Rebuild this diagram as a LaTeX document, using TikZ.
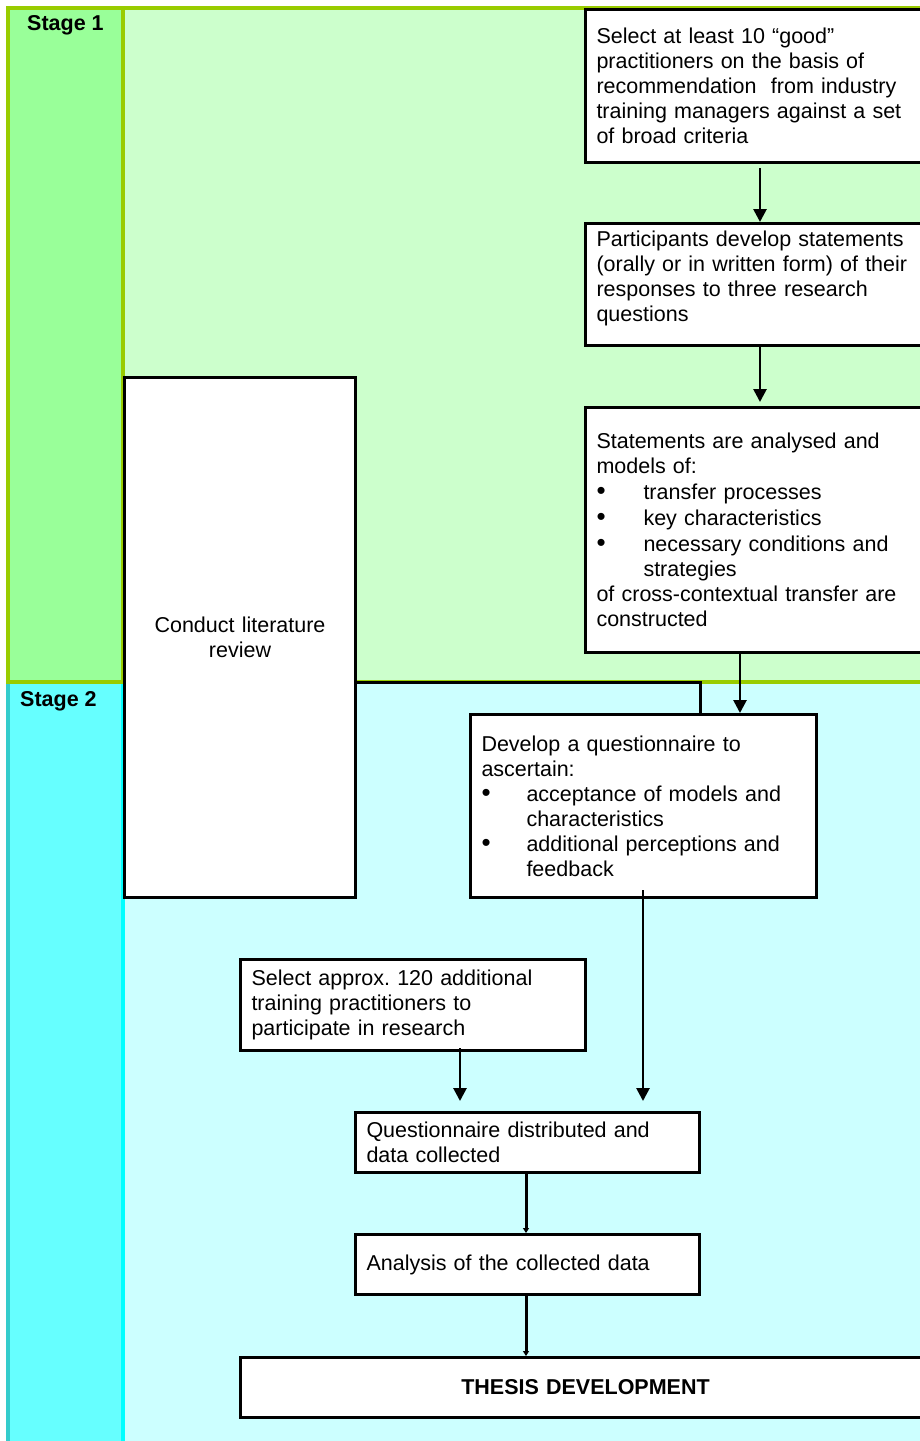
\documentclass[tikz,border=0pt]{standalone}
\usepackage{fontspec}
\setmainfont{Liberation Sans}
\usetikzlibrary{arrows.meta,calc}
\frenchspacing

\definecolor{frameGreen}{HTML}{99CC00}
\definecolor{stageOneSide}{HTML}{99FF99}
\definecolor{stageOneMain}{HTML}{CCFFCC}
\definecolor{stageTwoSide}{HTML}{66FFFF}
\definecolor{stageTwoMain}{HTML}{CCFFFF}
\definecolor{stageTwoEdge}{HTML}{33CCCC}
\definecolor{stageTwoRule}{HTML}{00FFFF}

\newcommand{\bodyfont}{\fontsize{21.5pt}{25pt}\selectfont}
\newcommand{\bulletmark}{{\fontsize{26pt}{25pt}\selectfont •}}
\newcommand{\itemC}{\makebox[47pt][l]{\bulletmark}}
\newcommand{\indC}{\hspace*{47pt}}
\newcommand{\itemD}{\makebox[45pt][l]{\bulletmark}}
\newcommand{\indD}{\hspace*{45pt}}

\tikzset{
  box/.style={draw, line width=3pt, fill=white, inner xsep=11pt, inner ysep=0pt,
              align=left, anchor=north west, font=\bodyfont},
  stagelabel/.style={anchor=west, inner sep=0pt, font=\bodyfont\bfseries},
  flow/.style={line width=2.7pt, -{Triangle[width=13pt,length=13pt]}},
  shortflow/.style={line width=3pt, -{Triangle[width=6pt,length=5pt]}},
  link/.style={line width=3pt},
}

\begin{document}
\begin{tikzpicture}[x=1pt,y=-1pt]
\useasboundingbox (0,0) rectangle (919,1441);

% stage panels
\fill[stageOneSide] (8,8) rectangle (123,682);
\fill[stageOneMain] (123,8) rectangle (935,682);
\fill[stageTwoSide] (8,682) rectangle (123,1450);
\fill[stageTwoMain] (123,682) rectangle (935,1450);
\draw[frameGreen, line width=4pt] (8,682) -- (8,8) -- (935,8);
\draw[frameGreen, line width=4pt] (123,8) -- (123,682);
\draw[frameGreen, line width=4pt] (6,682) -- (935,682);
\draw[stageTwoEdge, line width=4pt] (8,684) -- (8,1450);
\draw[stageTwoRule, line width=4pt] (123,684) -- (123,1450);

\node[stagelabel] (s1) at (27,25) {Stage 1};
\node[stagelabel] (s2) at (20,701) {Stage 2};

% process boxes
\node[box, minimum width=400pt, text width=378pt, minimum height=153pt] (sel10) at (584,8)
  {Select at least 10 “good”\\
   practitioners on the basis of\\
   recommendation\ \ from industry\\
   training managers against a set\\
   of broad criteria};

\node[box, minimum width=400pt, text width=378pt, minimum height=122pt] (stmt) at (584,222)
  {Participants develop statements\\
   (orally or in written form) of their\\
   responses to three research\\
   questions\\[-9pt]\mbox{}};

\node[box, minimum width=400pt, text width=378pt, minimum height=245pt] (models) at (584,406)
  {Statements are analysed and\\
   models of:\\[1pt]
   \itemC transfer processes\\[1pt]
   \itemC key characteristics\\[1pt]
   \itemC necessary conditions and\\
   \indC strategies\\
   of cross-contextual transfer are\\
   constructed};

\node[box, align=center, minimum width=231pt, text width=209pt, minimum height=520pt] (lit) at (123,376)
  {Conduct literature\\review};

\node[box, minimum width=346pt, text width=324pt, minimum height=183pt] (quest) at (469,713)
  {Develop a questionnaire to\\
   ascertain:\\
   \itemD acceptance of models and\\
   \indD characteristics\\
   \itemD additional perceptions and\\
   \indD feedback};

\node[box, minimum width=345pt, text width=323pt, minimum height=91pt] (sel120) at (239,958)
  {Select approx. 120 additional\\
   training practitioners to\\
   participate in research};

\node[box, minimum width=344pt, text width=322pt, minimum height=60pt] (dist) at (354,1111)
  {Questionnaire distributed and\\
   data collected};

\node[box, minimum width=344pt, text width=322pt, minimum height=60pt] (anal) at (354,1233)
  {Analysis of the collected data};

\node[box, align=center, font=\bodyfont\bfseries, minimum width=690pt, text width=668pt,
      minimum height=60pt] (thesis) at (239,1356)
  {THESIS DEVELOPMENT};

% connector columns
\coordinate (colA) at (760,0);
\coordinate (colC) at (740,0);
\coordinate (colQ) at (643,0);
\coordinate (colS) at (460,0);
\coordinate (colD) at (526,0);
\coordinate (bend) at (700,682);

\draw[flow] ($(sel10.south -| colA)+(0,4)$) -- (stmt.north -| colA);
\draw[flow] (stmt.south -| colA) -- ($(models.north -| colA)+(0,-4)$);
\draw[flow] (models.south -| colC) -- (quest.north -| colC);
\draw[link] (lit.east |- bend) -- (bend) -- (bend |- quest.north);
\draw[flow] ($(quest.south -| colQ)+(0,-9)$) -- ($(dist.north -| colQ)+(0,-10)$);
\draw[flow] ($(sel120.south -| colS)+(0,-4)$) -- ($(dist.north -| colS)+(0,-10)$);
\draw[shortflow] (dist.south -| colD) -- (anal.north -| colD);
\draw[shortflow] (anal.south -| colD) -- (thesis.north -| colD);
\end{tikzpicture}
\end{document}
